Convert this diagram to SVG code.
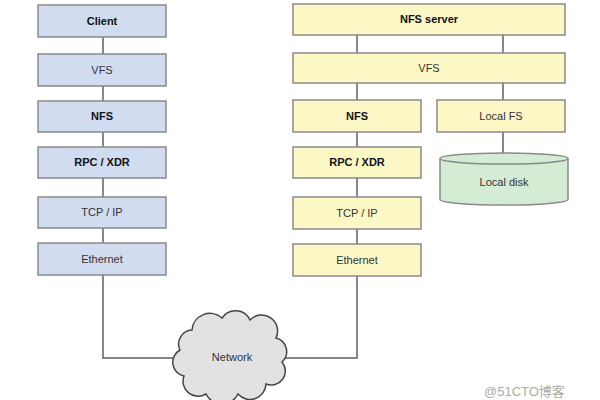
<svg xmlns="http://www.w3.org/2000/svg" width="600" height="400" viewBox="0 0 600 400">
<style>
.box{stroke:#8a8a8a;stroke-width:1.5}
.c{fill:#d2dcf0}
.s{fill:#fcf8c6}
.g{fill:#d4ebd4}
text{font-family:"Liberation Sans",Arial,sans-serif;font-size:11px;fill:#333;text-anchor:middle}
.b{font-weight:bold;fill:#111}
.ln{stroke:#606060;stroke-width:1.5;fill:none}
</style>
<rect width="600" height="400" fill="#fff"/>
<g id="connectors">
<path class="ln" d="M103 37V54M103 86V101M103 132V147M103 178V197M103 228V243"/>
<path class="ln" d="M357 35V53M503 35V53M357 83V100M503 83V100M357 132V147M503 132V153M357 178V197M357 229V244"/>
<path class="ln" d="M103 275V358H178M357 276V358H281"/>
</g>
<g id="client"><rect class="box c" x="38" y="5" width="128" height="32"/><text class="b" x="102" y="25">Client</text></g>
<g id="c-vfs"><rect class="box c" x="38" y="54" width="128" height="32"/><text x="102" y="74">VFS</text></g>
<g id="c-nfs"><rect class="box c" x="38" y="101" width="128" height="31"/><text class="b" x="102" y="120">NFS</text></g>
<g id="c-rpc"><rect class="box c" x="38" y="147" width="128" height="31"/><text class="b" x="102" y="166">RPC / XDR</text></g>
<g id="c-tcp"><rect class="box c" x="38" y="197" width="128" height="31"/><text x="102" y="216">TCP / IP</text></g>
<g id="c-eth"><rect class="box c" x="38" y="243" width="128" height="32"/><text x="102" y="263">Ethernet</text></g>
<g id="server"><rect class="box s" x="293" y="4" width="272" height="31"/><text class="b" x="429" y="23">NFS server</text></g>
<g id="s-vfs"><rect class="box s" x="293" y="53" width="272" height="30"/><text x="429" y="72">VFS</text></g>
<g id="s-nfs"><rect class="box s" x="293" y="100" width="128" height="32"/><text class="b" x="357" y="120">NFS</text></g>
<g id="s-localfs"><rect class="box s" x="437" y="100" width="128" height="32"/><text x="501" y="120">Local FS</text></g>
<g id="s-rpc"><rect class="box s" x="293" y="147" width="128" height="31"/><text class="b" x="357" y="166">RPC / XDR</text></g>
<g id="s-tcp"><rect class="box s" x="293" y="197" width="128" height="32"/><text x="357" y="217">TCP / IP</text></g>
<g id="s-eth"><rect class="box s" x="293" y="244" width="128" height="32"/><text x="357" y="264">Ethernet</text></g>
<g id="disk">
<path class="box g" d="M440 158.5V199.5A64 5.5 0 0 0 568 199.5V158.5"/>
<ellipse class="box g" cx="504" cy="158.5" rx="64" ry="5.5"/>
<text x="504" y="186">Local disk</text>
</g>
<g id="network">
<path d="M180 350a14 14 0 0 1 12-20a18 18 0 0 1 30-12a16 16 0 0 1 28 2a16 16 0 0 1 26 18a14 14 0 0 1 6 24a14 14 0 0 1-16 22a16 16 0 0 1-28 10a18 18 0 0 1-32 0a15 15 0 0 1-22-18a14 14 0 0 1-4-26z" fill="#e2e2e4" stroke="#444" stroke-width="1.5"/>
<text x="232" y="361">Network</text>
</g>
<text x="484" y="396" style="text-anchor:start;font-size:13px;fill:#aaa;font-family:'Liberation Sans','Noto Sans CJK SC',sans-serif">@51CTO博客</text>
</svg>
